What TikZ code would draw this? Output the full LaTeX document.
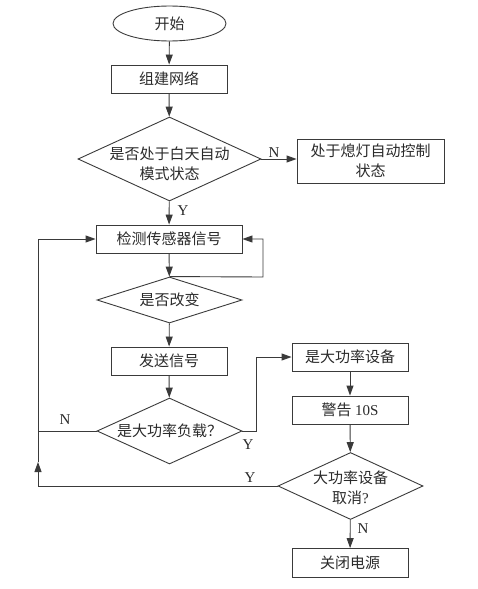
\documentclass[tikz,border=0pt]{standalone}
\usepackage{fontspec}
\setmainfont{Liberation Serif}
\newfontfamily\cjk{Noto Sans CJK SC}
\usetikzlibrary{shapes.geometric,arrows.meta}
\definecolor{linec}{HTML}{3A3A3A}
\definecolor{textc}{HTML}{2A2A2A}
\begin{document}
\begin{tikzpicture}[x=1pt,y=-1pt,line width=0.9pt,
  cjkfont/.style={font=\cjk\fontsize{15}{20}\selectfont, text=textc},
  box/.style={draw=linec, rectangle, minimum width=116pt, minimum height=28pt, inner sep=0pt, cjkfont, align=center},
  dia/.style={draw=linec, diamond, inner sep=0pt},
  txt/.style={cjkfont, align=center},
  arr/.style={draw=linec, -{Triangle[length=10pt,width=7pt]}},
  conn/.style={draw=linec},
  lab/.style={font=\rmfamily\fontsize{15}{15}\selectfont, text=textc, inner sep=0pt}]
\useasboundingbox (0,0) rectangle (478,589);
% nodes
\node[ellipse, draw=linec, minimum width=113pt, minimum height=35pt, inner sep=0pt, cjkfont] (start) at (169.5,23.5) {开始};
\node[box] (net) at (169,79) {组建网络};
\node[dia, minimum width=183pt, minimum height=84pt,
  label={[txt, yshift=-5pt]center:是否处于白天自动\\模式状态}] (d1) at (169.5,159) {};
\node[box, minimum width=147pt, minimum height=44pt] (state) at (370.5,161) {处于熄灯自动控制\\状态};
\node[box, minimum width=146pt] (chk) at (169,239) {检测传感器信号};
\node[dia, minimum width=145pt, minimum height=46pt,
  label={[txt]center:是否改变}] (d2) at (169.5,300) {};
\node[box] (send) at (169,361) {发送信号};
\node[dia, minimum width=145pt, minimum height=66pt,
  label={[txt]center:是大功率负载？}] (d3) at (169.5,431) {};
\node[box] (big) at (350,357) {是大功率设备};
\node[box] (warn) at (350,410) {警告 {\rmfamily 10S}};
\node[dia, minimum width=145pt, minimum height=67pt,
  label={[txt, yshift=-2pt]center:大功率设备\\取消{\rmfamily ?}}] (d4) at (350.5,486) {};
\node[box, minimum height=29pt] (off) at (350,563) {关闭电源};
% labels
\node[lab] (lN1) at (274,153) {N};
\node[lab] (lY1) at (183,211) {Y};
\node[lab] (lN2) at (65,420) {N};
\node[lab] (lY2) at (248,445) {Y};
\node[lab] (lY3) at (250,478) {Y};
\node[lab] (lN3) at (363,529) {N};
% helper coordinates
\coordinate (rA) at (263,277);
\coordinate (Lmid) at (38,431);
\coordinate (Ltip) at (38,462);
% connectors
\draw[arr] (start) -- (net);
\draw[arr] (net) -- (d1);
\draw[arr] (d1.east) -- (d1.east -| state.west);
\draw[arr] (d1) -- (chk);
\draw[arr] (chk) -- (d2);
\draw[arr] (d2.north) -- (rA) |- (chk.east);
\draw[arr] (d2) -- (send);
\draw[arr] (send) -- (d3);
\draw[conn] (d3.west) -- (Lmid);
\draw[arr] (Ltip) |- (chk.west);
\draw[arr] (d4.west) -| (Ltip);
\draw[arr] (d3.east) -- ++(14,0) |- (big.west);
\draw[arr] (big) -- (warn);
\draw[arr] (warn) -- (d4);
\draw[arr] (d4) -- (off);
\end{tikzpicture}
\end{document}
